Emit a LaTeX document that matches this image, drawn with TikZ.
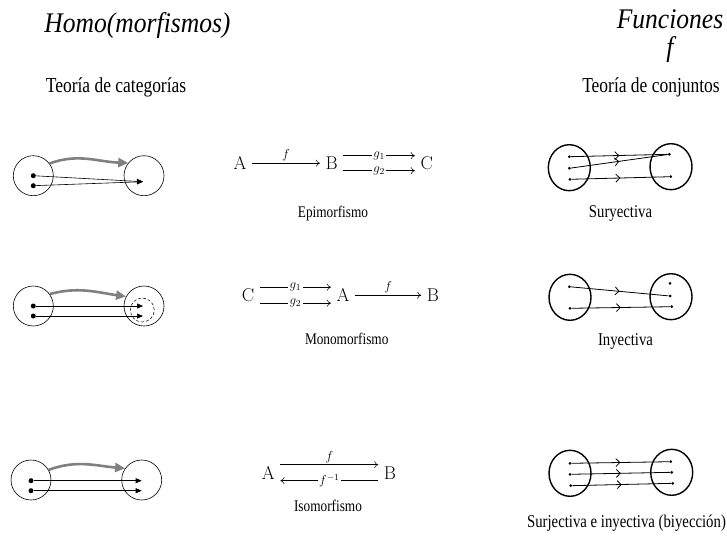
\documentclass[tikz,border=0pt]{standalone}
\usepackage[no-math]{fontspec}
\setmainfont{Liberation Serif}[FakeStretch=0.82]
\newfontfamily\titlefont{Liberation Serif}[FakeStretch=0.9]
\usepackage{fix-cm}
\usetikzlibrary{arrows.meta, shapes.geometric, decorations.markings}
\begin{document}
\begin{tikzpicture}[x=1pt, y=-1pt,
  title/.style={font=\titlefont\fontsize{28.4}{32}\selectfont\itshape, anchor=base, inner sep=0pt},
  sub/.style={font=\fontsize{21.3}{25}\selectfont, anchor=base, inner sep=0pt},
  capcat/.style={font=\fontsize{16.2}{19}\selectfont, anchor=base, inner sep=0pt},
  capset/.style={font=\fontsize{18}{22}\selectfont, anchor=base, inner sep=0pt},
  obj/.style={font=\fontsize{18.5}{22}\selectfont, anchor=base, inner sep=5.5pt},
  lab/.style={font=\fontsize{18.5}{22}\selectfont, inner sep=1.5pt},
  arr/.style={line width=0.5pt, -{To[length=4pt, width=7pt]}},
  catset/.style={draw, circle, minimum size=40pt, inner sep=0pt, line width=0.6pt},
  catdot/.style={circle, fill, inner sep=0pt, minimum size=5pt},
  morph/.style={line width=0.6pt, -{Triangle[length=6pt, width=5pt]}},
  gris/.style={draw=gray, line width=2.6pt, -{Triangle[length=10pt, width=9pt]}},
  conj/.style={draw, ellipse, minimum width=42pt, minimum height=46pt, inner sep=0pt, line width=1.4pt},
  elem/.style={circle, fill, inner sep=0pt, minimum size=3pt},
  fn/.style={line width=0.8pt, postaction={decorate}, decoration={markings, mark=at position 0.5 with {\arrow{Straight Barb[length=4pt, width=8pt, line width=0.8pt]}}}}
]
  \useasboundingbox (0,0) rectangle (727,541);

  \node[title] (homo) at (137.5,32) {Homo(morfismos)};
  \node[sub] (teocat) at (116,92) {Teoría de categorías};
  \node[title] (func) at (670,28) {Funciones};
  \node[title] (fsym) at (670,56) {f};
  \node[sub] (teoconj) at (651,92) {Teoría de conjuntos};

  \node[catset] (X1) at (33.3,175.7) {};
  \node[catset] (Y1) at (144,175.7) {};
  \node[catdot] (x11) at (33.3,175.7) {};
  \node[catdot] (x12) at (33.3,185.7) {};
  \coordinate (y1) at (143,181.7);
  \draw[morph] (x11) -- (y1);
  \draw[morph] (x12) -- (y1);
  \draw[gris] (X1.37) to[out=20, in=178] (Y1.141);

  \node[catset] (X2) at (33.3,306) {};
  \node[catset] (Y2) at (144,306) {};
  \node[draw, circle, densely dashed, minimum size=24pt, inner sep=0pt, line width=0.5pt] (Z2) at (142.3,310) {};
  \node[catdot] (x21) at (33.3,306) {};
  \node[catdot] (x22) at (33.3,316) {};
  \coordinate (y21) at (143,306);
  \coordinate (y22) at (143,316);
  \draw[morph] (x21) -- (y21);
  \draw[morph] (x22) -- (y22);
  \draw[gris] (X2.36) to[out=15, in=172] (Y2.152);

  \node[catset] (X3) at (31,480) {};
  \node[catset] (Y3) at (141.7,480) {};
  \node[catdot] (x31) at (31,480.7) {};
  \node[catdot] (x32) at (31,490.7) {};
  \coordinate (y31) at (141.7,480.7);
  \coordinate (y32) at (141.7,490.7);
  \draw[morph] (x31) -- (y31);
  \draw[morph] (x32) -- (y32);
  \draw[gris] (X3.30) to[out=20, in=175] (Y3.145);

  \node[obj] (A1) at (240,169.5) {$\mathrm{A}$};
  \node[obj] (B1) at (331.7,169.5) {$\mathrm{B}$};
  \node[obj] (C1) at (426.7,169.5) {$\mathrm{C}$};
  \draw[arr] (A1) -- node[lab, above] (f1) {$\scriptstyle f$} (B1);
  \draw[arr] ([yshift=7.5pt]B1.east) -- node[lab, fill=white] (g11) {$\scriptstyle g_1$} ([yshift=7.5pt]C1.west);
  \draw[arr] ([yshift=-7.5pt]B1.east) -- node[lab, fill=white] (g12) {$\scriptstyle g_2$} ([yshift=-7.5pt]C1.west);
  \node[capcat] (epi) at (333,217) {Epimorfismo};

  \node[obj] (C2) at (248,301.5) {$\mathrm{C}$};
  \node[obj] (A2) at (343,301.5) {$\mathrm{A}$};
  \node[obj] (B2) at (433,301.5) {$\mathrm{B}$};
  \draw[arr] ([yshift=8pt]C2.east) -- node[lab, fill=white] (g21) {$\scriptstyle g_1$} ([yshift=8pt]A2.west);
  \draw[arr] ([yshift=-8pt]C2.east) -- node[lab, fill=white] (g22) {$\scriptstyle g_2$} ([yshift=-8pt]A2.west);
  \draw[arr] (A2) -- node[lab, above] (f2) {$\scriptstyle f$} (B2);
  \node[capcat] (mono) at (346.7,344) {Monomorfismo};

  \node[obj] (A3) at (268.3,479) {$\mathrm{A}$};
  \node[obj] (B3) at (390,479) {$\mathrm{B}$};
  \draw[arr] ([yshift=8pt]A3.east) -- node[lab, above] (f3) {$\scriptstyle f$} ([yshift=8pt]B3.west);
  \draw[arr] ([yshift=-8pt]B3.west) -- node[lab, fill=white] (finv) {$\scriptstyle f^{-1}$} ([yshift=-8pt]A3.east);
  \node[capcat] (iso) at (328,511) {Isomorfismo};

  \node[conj] (S1) at (569.3,167.7) {};
  \node[conj] (T1) at (671,166.7) {};
  \node[elem] (s11) at (569.3,156.7) {};
  \node[elem] (s12) at (569.3,168.3) {};
  \node[elem] (s13) at (570,179.3) {};
  \node[elem] (t11) at (669.3,154.3) {};
  \node[elem] (t12) at (670.7,176.7) {};
  \draw[fn] (s11) -- (t11);
  \draw[fn] (s12) -- (t11);
  \draw[fn] (s13) -- (t12);
  \node[capset] (sury) at (620.5,217.3) {Suryectiva};

  \node[conj] (S2) at (570,297.3) {};
  \node[conj] (T2) at (671,296.7) {};
  \node[elem] (s21) at (569.3,286.7) {};
  \node[elem] (s22) at (570,308.3) {};
  \node[elem] (t21) at (670,283.3) {};
  \node[elem] (t22) at (670,296) {};
  \node[elem] (t23) at (671.7,306.7) {};
  \draw[fn] (s21) -- (t22);
  \draw[fn] (s22) -- (t23);
  \node[capset] (iny) at (625.5,345.7) {Inyectiva};

  \node[conj] (S3) at (570,473.3) {};
  \node[conj] (T3) at (671.7,472.3) {};
  \node[elem] (s31) at (570,463.3) {};
  \node[elem] (s32) at (570,474.3) {};
  \node[elem] (s33) at (570.7,485.7) {};
  \node[elem] (t31) at (670.7,461.7) {};
  \node[elem] (t32) at (671.7,472.3) {};
  \node[elem] (t33) at (672.7,483.3) {};
  \draw[fn] (s31) -- (t31);
  \draw[fn] (s32) -- (t32);
  \draw[fn] (s33) -- (t33);
  \node[capset] (biy) at (626.5,527.3) {Surjectiva e inyectiva (biyección)};
\end{tikzpicture}
\end{document}
